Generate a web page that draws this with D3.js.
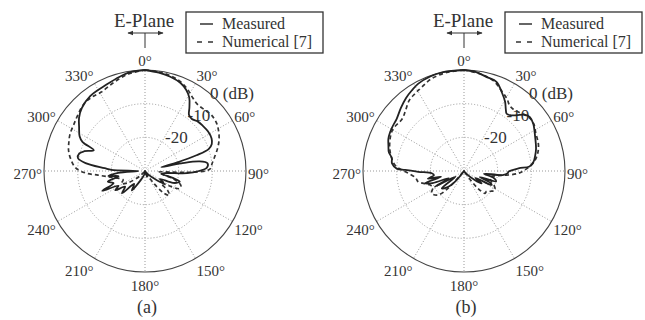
<!DOCTYPE html>
<html>
<head>
<meta charset="utf-8">
<script src="https://cdn.jsdelivr.net/npm/d3@7"></script>
<style>
  body { margin: 0; background: #fff; }
  svg { display: block; }
  text { font-family: "Liberation Serif", "DejaVu Serif", serif; fill: #333; }
</style>
</head>
<body>
<svg id="svg" width="645" height="320"></svg>
<script>
// pattern data: [angle in degrees, level in dB]
const measuredA = [
  [0, 0], [8, -0.5], [15, -1], [22, -1.8], [27, -3], [31, -4.5], [35, -7], [38, -8.8],
  [42, -9.2], [47, -8.5], [52, -8.2], [58, -7.9], [64, -8], [68, -8.6], [71, -10],
  [73, -14], [75, -20], [76.5, -25], [78, -19], [80, -13.5], [83, -11.3], [87, -11.6],
  [90, -14], [93, -17.5], [96, -24], [100, -25], [104, -21.5], [107, -19.2], [110, -19.8],
  [113, -21], [118, -25], [122, -23.5], [126, -24.5], [132, -27.5], [140, -29], [150, -30],
  [160, -28], [170, -30], [190, -29], [200, -28], [205, -27], [214, -23], [220, -25],
  [226, -20.5], [232, -22.5], [237, -19.5], [241, -21], [245, -16], [249, -20], [254, -18.5],
  [259, -22], [262, -19], [266, -22], [270, -28], [272, -20], [274, -18], [277.6, -12.2],
  [281, -9.7], [285, -9.8], [288, -11], [292, -13.6], [295, -9.5], [298, -8], [303.6, -6.5],
  [309, -4.8], [315, -3.5], [324, -2.4], [336, -1.9], [345, -1], [352, -0.3], [360, 0]
];
const numericalA = [
  [0, 0], [10, -0.4], [20, -1.2], [27, -2.5], [32, -3.8], [38, -4.8], [45, -4.6], [50, -4.2],
  [56, -4.4], [62, -5.2], [67.5, -6.2], [73, -7.5], [79, -9], [84, -10], [88, -10.6], [90, -12],
  [92, -18], [95, -26], [100, -25], [106, -21], [112, -18.5], [117, -18.5], [122, -22],
  [127, -24], [131, -21], [135, -19.8], [140, -21.6], [145, -26], [152, -30], [220, -30],
  [225, -28], [235, -24], [242, -22], [248, -23], [254, -22], [258, -20.5], [261, -19],
  [265, -16], [268, -12.4], [272.5, -9.4], [279.4, -7.6], [285, -6.5], [290, -5.9],
  [296, -5.2], [303.6, -4.7], [310, -4], [318, -3], [325, -3], [331, -3.2], [340, -2.2],
  [350, -0.8], [360, 0]
];
const measuredB = [
  [0, 0], [7, -0.4], [13.6, -1.3], [20, -1.8], [25.5, -4], [30.7, -6.1], [34, -7.8],
  [36.7, -8.8], [40, -8.4], [43.4, -7.2], [47, -5.5], [50.7, -4.7], [55.7, -5.1],
  [63.3, -6.4], [72.8, -7.6], [78, -8.4], [82.6, -9.2], [86, -10.5], [87.2, -13.8],
  [90.9, -16.8], [93, -17], [96, -18.5], [98, -24], [103, -21], [108, -20], [111, -25],
  [114, -21.5], [117, -20.8], [121, -26], [125, -23.6], [130, -26], [140, -29], [150, -30],
  [210, -30], [220, -26], [226, -23], [232, -21.6], [236, -27], [241.6, -20.2], [245, -25],
  [249, -20], [252.5, -17.9], [256, -23], [258, -19], [262, -21], [266, -20.4], [269, -16.4],
  [271, -12.5], [272, -10], [276, -8.5], [280.3, -8.2], [284, -7], [288.7, -6.3], [293, -5.6],
  [297.8, -5.2], [302, -5], [307.8, -4.7], [315, -3.5], [321.6, -2.3], [327, -1.5],
  [332.4, -0.7], [340, -0.2], [348, 0], [360, 0]
];
const numericalB = [
  [0, 0], [10, -0.8], [18, -1.8], [23.6, -3.3], [30.6, -5], [35, -6.3], [40, -6.5],
  [45, -5.8], [50, -5], [56, -5], [61.5, -5.8], [71, -6.6], [78, -7.8], [84, -9.5],
  [89, -11.9], [92.4, -13.8], [95.2, -16.8], [98, -20], [103, -22], [110, -21.5],
  [116, -20], [121.5, -19.2], [127, -20], [132, -21], [136.7, -20.9], [142, -24],
  [150, -30], [215, -30], [222, -24], [227, -19.6], [235.4, -18.3], [242, -19.5],
  [248, -19], [256.8, -16], [262, -15.5], [267.6, -13.5], [271, -11.5], [275, -9.4],
  [282, -7.8], [290, -6.5], [300, -5.5], [310, -6], [316, -5], [322, -3.5], [327.6, -2.8],
  [332.8, -2.2], [340, -1], [350, -0.3], [360, 0]
];

const angleTicks = d3.range(0, 360, 30);
const ringTicks = [0, -10, -20];
const ringLabels = ["0 (dB)", "-10", "-20"];
const legendLabels = ["Measured", "Numerical [7]"];
const panelTags = ["(a)", "(b)"];

const svg = d3.select('#svg');
const R = 101;
const rScale = d3.scaleLinear().domain([-30, 0]).range([0, R]).clamp(true);
const rad = a => a * Math.PI / 180;

svg.append('defs').append('marker')
  .attr('id', 'arr')
  .attr('viewBox', '0 0 10 10')
  .attr('refX', 9).attr('refY', 5)
  .attr('markerWidth', 6).attr('markerHeight', 6)
  .attr('markerUnits', 'userSpaceOnUse')
  .attr('orient', 'auto-start-reverse')
  .append('path')
  .attr('d', 'M0,1L10,5L0,9z')
  .attr('fill', '#333');

const panels = [
  { cx: 145, cy: 171, meas: measuredA, num: numericalA, tag: panelTags[0] },
  { cx: 464, cy: 171, meas: measuredB, num: numericalB, tag: panelTags[1] }
];

panels.forEach(p => {
  const g = svg.append('g').attr('transform', 'translate(' + p.cx + ',' + p.cy + ')');

  // dotted grid rings
  g.selectAll('.ring')
    .data(ringTicks.filter(d => d < 0))
    .enter().append('circle')
    .attr('r', d => rScale(d))
    .attr('fill', 'none')
    .attr('stroke', '#999')
    .attr('stroke-width', 1)
    .attr('stroke-dasharray', '1,2');

  // spokes
  g.selectAll('.spoke')
    .data(angleTicks)
    .enter().append('line')
    .attr('x1', 0).attr('y1', 0)
    .attr('x2', d => R * Math.sin(rad(d)))
    .attr('y2', d => -R * Math.cos(rad(d)))
    .attr('stroke', '#999')
    .attr('stroke-width', 1)
    .attr('stroke-dasharray', '1,2');

  g.append('circle')
    .attr('r', R)
    .attr('fill', 'none')
    .attr('stroke', '#444')
    .attr('stroke-width', 1.1);

  // angle labels
  g.selectAll('.alab')
    .data(angleTicks)
    .enter().append('text')
    .attr('x', d => (R + 2) * Math.sin(rad(d)))
    .attr('y', d => -(R + 4) * Math.cos(rad(d)) + 2.5 - 7.5 * Math.cos(rad(d)))
    .attr('dominant-baseline', 'central')
    .attr('text-anchor', d => {
      const s = Math.sin(rad(d));
      return s > 0.3 ? 'start' : (s < -0.3 ? 'end' : 'middle');
    })
    .style('font-size', '15px')
    .text(d => d + '°');

  // ring labels
  g.selectAll('.rlab')
    .data(ringTicks)
    .enter().append('text')
    .attr('x', d => 0.669 * rScale(d) - 2.5)
    .attr('y', d => -0.654 * rScale(d) - 11)
    .attr('dominant-baseline', 'central')
    .style('font-size', '17px')
    .text((d, i) => ringLabels[i]);

  const line = d3.lineRadial()
    .angle(d => rad(d[0]))
    .radius(d => rScale(d[1]))
    .curve(d3.curveCatmullRom.alpha(0.5));

  g.append('path')
    .datum(p.num)
    .attr('d', line)
    .attr('fill', 'none')
    .attr('stroke', '#333')
    .attr('stroke-width', 1.7)
    .attr('stroke-dasharray', '4,3');

  g.append('path')
    .datum(p.meas)
    .attr('d', line)
    .attr('fill', 'none')
    .attr('stroke', '#222')
    .attr('stroke-width', 1.8);

  // E-Plane header with arrow
  const top = svg.append('g').attr('transform', 'translate(' + p.cx + ',0)');
  top.append('text')
    .attr('x', -1).attr('y', 27)
    .attr('text-anchor', 'middle')
    .style('font-size', '19px')
    .text('E-Plane');
  top.append('line')
    .attr('x1', -17).attr('y1', 33).attr('x2', 18).attr('y2', 33)
    .attr('stroke', '#333').attr('stroke-width', 1)
    .attr('marker-start', 'url(#arr)').attr('marker-end', 'url(#arr)');
  top.append('line')
    .attr('x1', 0).attr('y1', 33).attr('x2', 0).attr('y2', 48)
    .attr('stroke', '#333').attr('stroke-width', 1);

  // legend
  const lg = svg.append('g').attr('transform', 'translate(' + (p.cx + 41) + ',12)');
  lg.append('rect')
    .attr('width', 137).attr('height', 41)
    .attr('fill', '#fff')
    .attr('stroke', '#333').attr('stroke-width', 1.3);
  lg.selectAll('.lline')
    .data(legendLabels)
    .enter().append('line')
    .attr('x1', (d, i) => i === 0 ? 14 : 11)
    .attr('x2', (d, i) => i === 0 ? 27 : 28)
    .attr('y1', (d, i) => 12 + i * 18)
    .attr('y2', (d, i) => 12 + i * 18)
    .attr('stroke', '#333').attr('stroke-width', 1.5)
    .attr('stroke-dasharray', (d, i) => i === 0 ? null : '5,6');
  lg.selectAll('.ltext')
    .data(legendLabels)
    .enter().append('text')
    .attr('x', 36)
    .attr('y', (d, i) => 17 + i * 18)
    .style('font-size', '16px')
    .text(d => d);

  svg.append('text')
    .attr('x', p.cx + 2).attr('y', 313)
    .attr('text-anchor', 'middle')
    .style('font-size', '18px')
    .text(p.tag);
});
</script>
</body>
</html>
